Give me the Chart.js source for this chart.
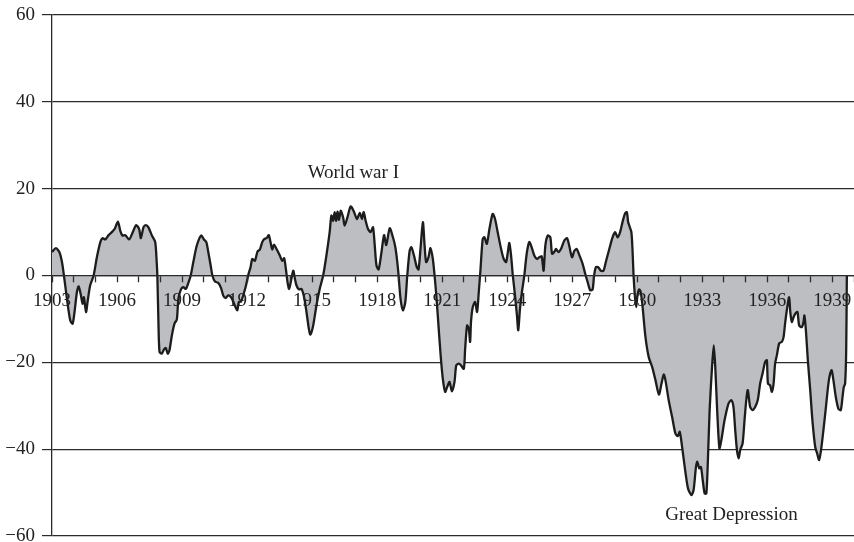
<!DOCTYPE html>
<html>
<head>
<meta charset="utf-8">
<script src="https://cdn.jsdelivr.net/npm/chart.js@4.4.1/dist/chart.umd.min.js"></script>
<style>
html,body{margin:0;padding:0;background:#fff;overflow:hidden;}
canvas{display:block;}
</style>
</head>
<body>
<canvas id="c" width="854" height="542"></canvas>
<script>
// Time (decimal year) and deviation values
const years = [
1903.00,1903.18,1903.34,1903.46,1903.55,1903.69,1903.84,1903.95,1904.04,1904.15,1904.23,1904.32,1904.41,1904.47,1904.57,1904.64,1904.76,1904.92,
1905.07,1905.23,1905.33,1905.46,1905.61,1905.76,1905.89,1906.04,1906.15,1906.25,1906.38,1906.56,1906.71,1906.88,1907.02,1907.10,1907.22,1907.33,
1907.45,1907.60,1907.76,1907.83,1907.86,1907.91,1907.96,1908.06,1908.17,1908.25,1908.34,1908.42,1908.53,1908.65,1908.76,1908.83,1908.95,1909.06,
1909.17,1909.29,1909.40,1909.52,1909.68,1909.88,1910.01,1910.12,1910.21,1910.32,1910.40,1910.52,1910.67,1910.80,1910.90,1911.01,1911.13,1911.26,
1911.36,1911.47,1911.55,1911.62,1911.72,1911.82,1911.95,1912.06,1912.16,1912.24,1912.36,1912.48,1912.59,1912.70,1912.79,1912.90,1913.00,1913.08,
1913.16,1913.24,1913.36,1913.51,1913.62,1913.71,1913.79,1913.87,1913.94,1914.02,1914.13,1914.20,1914.28,1914.39,1914.51,1914.63,1914.74,1914.85,
1914.92,1915.05,1915.20,1915.35,1915.51,1915.66,1915.81,1915.89,1915.97,1916.04,1916.11,1916.17,1916.24,1916.32,1916.43,1916.50,1916.63,1916.78,
1916.93,1917.07,1917.20,1917.30,1917.38,1917.47,1917.58,1917.70,1917.81,1917.89,1917.97,1918.07,1918.19,1918.32,1918.42,1918.58,1918.73,1918.84,
1918.93,1918.99,1919.08,1919.19,1919.30,1919.39,1919.50,1919.58,1919.70,1919.83,1919.91,1920.00,1920.11,1920.19,1920.26,1920.37,1920.46,1920.57,
1920.65,1920.73,1920.83,1920.93,1921.03,1921.14,1921.23,1921.34,1921.45,1921.57,1921.65,1921.77,1921.87,1922.00,1922.06,1922.15,1922.23,1922.29,
1922.33,1922.41,1922.52,1922.61,1922.69,1922.77,1922.87,1922.95,1923.06,1923.18,1923.33,1923.44,1923.56,1923.72,1923.84,1923.95,1924.03,1924.10,
1924.18,1924.26,1924.36,1924.45,1924.51,1924.59,1924.68,1924.79,1924.90,1925.02,1925.13,1925.25,1925.38,1925.48,1925.59,1925.68,1925.76,1925.87,
1925.99,1926.07,1926.18,1926.25,1926.36,1926.48,1926.63,1926.76,1926.86,1926.99,1927.10,1927.21,1927.32,1927.48,1927.60,1927.71,1927.83,1927.94,
1928.01,1928.09,1928.20,1928.32,1928.44,1928.55,1928.71,1928.86,1928.98,1929.09,1929.21,1929.32,1929.43,1929.52,1929.58,1929.66,1929.73,1929.78,
1929.83,1929.89,1929.95,1930.01,1930.09,1930.16,1930.24,1930.38,1930.53,1930.69,1930.84,1931.00,1931.12,1931.22,1931.30,1931.45,1931.61,1931.76,
1931.87,1931.96,1932.07,1932.19,1932.34,1932.50,1932.60,1932.71,1932.77,1932.86,1932.94,1933.02,1933.11,1933.19,1933.26,1933.34,1933.45,1933.53,
1933.60,1933.68,1933.79,1933.88,1934.03,1934.21,1934.34,1934.44,1934.52,1934.60,1934.68,1934.75,1934.86,1934.95,1935.03,1935.10,1935.21,1935.32,
1935.44,1935.56,1935.67,1935.78,1935.90,1935.98,1936.03,1936.13,1936.21,1936.29,1936.36,1936.44,1936.55,1936.67,1936.75,1936.82,1936.90,1937.01,
1937.06,1937.13,1937.21,1937.29,1937.39,1937.47,1937.59,1937.67,1937.71,1937.78,1937.87,1937.98,1938.08,1938.21,1938.30,1938.39,1938.48,1938.59,
1938.69,1938.82,1938.90,1938.97,1939.05,1939.16,1939.28,1939.39,1939.47,1939.53,1939.59,1939.64,1939.67
];
const values = [
5.4,6.3,5.4,3.1,0,-5.4,-10.3,-11.1,-8.4,-3.8,-2.5,-4.2,-6.5,-5.0,-8.4,-6.1,-2.3,0,
4.2,7.7,8.6,8.3,9.3,10.0,10.7,12.4,10.3,9.2,9.3,8.3,9.8,11.6,10.7,8.6,11.1,11.6,
11.1,9.3,7.7,3.1,0,-10.7,-17.6,-18.0,-17.0,-16.7,-18.0,-17.2,-13.8,-11.1,-10.1,-5.4,-3.2,-2.7,
-3.1,-1.7,0,3.1,6.9,9.2,8.3,7.7,5.4,2.3,0,-1.4,-1.7,-2.9,-4.6,-5.2,-4.6,-5.0,
-6.0,-7.3,-8.0,-6.1,-6.0,-4.6,-2.3,0.2,1.9,3.8,3.4,5.5,6.0,7.7,8.4,8.6,9.3,7.7,
6.0,7.1,6.1,4.6,3.4,4.0,1.5,-1.7,-3.1,-1.4,1.1,-0.6,-2.3,-3.2,-3.1,-5.0,-8.4,-12.3,
-13.6,-11.5,-6.9,-3.1,0,4.6,10.0,13.8,12.6,14.6,12.6,14.7,12.8,14.9,13.4,11.5,13.4,15.9,
14.7,13.0,14.4,13.0,14.6,12.6,10.7,10.0,11.1,6.9,2.3,1.4,5.0,9.3,7.0,10.9,8.8,6.5,
3.1,0,-5.4,-8.0,-6.1,0,5.7,6.5,4.6,1.9,1.4,6.1,12.3,6.9,3.1,4.2,6.3,3.8,
0,-4.6,-11.5,-18.4,-23.8,-26.8,-25.7,-24.5,-26.7,-24.5,-20.7,-20.3,-20.7,-21.5,-16.9,-11.5,-12.3,-15.3,
-10.7,-7.3,-6.1,-8.4,-3.8,1.5,8.4,8.8,7.3,10.7,14.2,13.0,10.0,6.1,3.8,3.1,5.4,7.5,
4.6,0,-4.6,-9.2,-12.6,-7.7,-3.8,0,5.0,7.7,6.5,4.6,3.8,4.2,4.4,1.1,6.9,9.2,
8.8,5.0,5.5,6.1,5.4,6.1,8.0,8.6,6.9,4.2,5.7,6.1,4.8,2.7,0.4,-1.5,-3.4,-3.2,
0,1.9,1.9,1.1,1.1,3.1,6.1,8.8,10.0,8.8,10.0,12.3,14.2,14.6,12.3,11.1,10.0,6.1,
0,-4.6,-7.3,-4.6,-3.2,-3.8,-6.9,-14.2,-18.8,-21.1,-24.1,-27.4,-24.9,-22.8,-24.1,-28.7,-32.6,-36.4,
-37.0,-36.0,-39.5,-44.1,-49.0,-50.6,-49.4,-44.1,-42.9,-44.4,-44.1,-47.1,-50.2,-50.2,-42.5,-31.0,-21.1,-16.1,
-21.1,-30.3,-39.8,-37.9,-33.3,-29.5,-28.7,-30.3,-35.6,-40.2,-42.1,-40.2,-38.7,-33.3,-28.7,-26.4,-30.3,-31.0,
-30.3,-28.7,-24.9,-22.6,-19.9,-19.5,-24.9,-25.3,-26.8,-24.9,-20.3,-18.4,-15.6,-15.3,-14.2,-11.1,-8.0,-5.0,
-8.4,-10.7,-9.6,-8.8,-8.4,-11.5,-11.9,-10.7,-9.2,-12.6,-19.5,-26.4,-33.3,-39.5,-41.0,-42.5,-40.2,-35.6,
-31.0,-24.9,-22.6,-21.8,-24.1,-28.0,-30.7,-31.0,-28.0,-25.7,-24.9,-17.2,0
];
const xTickLabels = [1903,1906,1909,1912,1915,1918,1921,1924,1927,1930,1933,1936,1939];
const yTickValues = [-60,-40,-20,0,20,40,60];
const annotations = [
  {text: 'World war I', x: 1916.9, y: 23.7},
  {text: 'Great Depression', x: 1934.35, y: -55.2}
];

const FONT = '"Liberation Serif", "DejaVu Serif", serif';
const points = years.map((yr, i) => ({x: yr, y: values[i]}));

const annotationPlugin = {
  id: 'annots',
  afterDraw(chart) {
    const ctx = chart.ctx;
    const xs = chart.scales.x, ys = chart.scales.y;
    ctx.save();
    ctx.font = '19px ' + FONT;
    ctx.fillStyle = '#222';
    ctx.textAlign = 'center';
    ctx.textBaseline = 'middle';
    annotations.forEach(a => {
      ctx.fillText(a.text, xs.getPixelForValue(a.x), ys.getPixelForValue(a.y));
    });
    ctx.restore();
  }
};

new Chart(document.getElementById('c'), {
  type: 'line',
  data: {
    datasets: [{
      data: points,
      borderColor: '#1c1c1c',
      borderWidth: 2.3,
      backgroundColor: '#bdbec1',
      fill: 'origin',
      pointRadius: 0,
      tension: 0.25
    }]
  },
  options: {
    responsive: false,
    animation: false,
    events: [],
    layout: {padding: {top: 15, bottom: 6, left: 0, right: 0}},
    plugins: {legend: {display: false}, tooltip: {enabled: false}},
    scales: {
      x: {
        type: 'linear',
        min: 1903,
        max: 1940,
        position: {y: 0},
        afterFit(s) { s.height = 0; s.paddingLeft = 0; s.paddingRight = 0; },
        grid: {drawOnChartArea: false, drawTicks: true, tickLength: 6, tickColor: '#2b2b2b', tickWidth: 1.3, z: 1},
        border: {display: true, color: '#2b2b2b', width: 1.3, z: 1},
        ticks: {
          z: 1,
          stepSize: 1,
          autoSkip: false,
          maxRotation: 0,
          padding: 8,
          color: '#222',
          font: {family: FONT, size: 19},
          callback: v => xTickLabels.includes(v) ? String(v) : ''
        }
      },
      y: {
        min: -60,
        max: 60,
        afterFit(s) { s.width = 52; s.paddingTop = 0; s.paddingBottom = 0; },
        afterBuildTicks(s) { s.ticks = yTickValues.map(v => ({value: v})); },
        grid: {color: '#2b2b2b', lineWidth: 1.2, tickLength: 10},
        border: {display: true, color: '#2b2b2b', width: 1.3},
        ticks: {
          padding: 7,
          color: '#222',
          font: {family: FONT, size: 19},
          callback: v => (v < 0 ? '\u2212' + Math.abs(v) : String(v))
        }
      }
    }
  },
  plugins: [annotationPlugin]
});
</script>
</body>
</html>
